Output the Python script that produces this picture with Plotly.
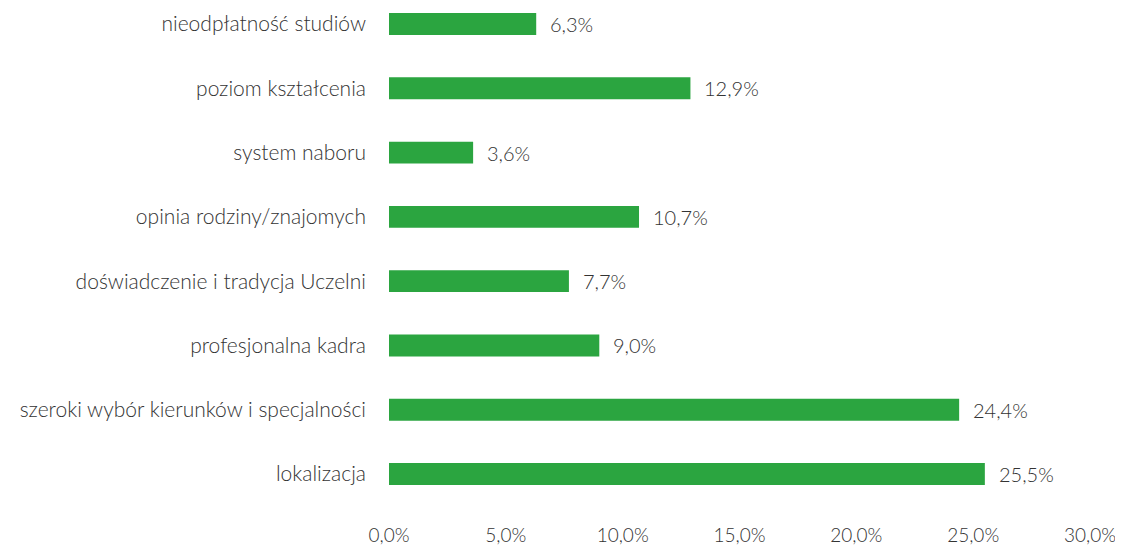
import plotly.graph_objects as go

categories = [
    "lokalizacja",
    "szeroki wybór kierunków i specjalności",
    "profesjonalna kadra",
    "doświadczenie i tradycja Uczelni",
    "opinia rodziny/znajomych",
    "system naboru",
    "poziom kształcenia",
    "nieodpłatność studiów",
]
values = [25.5, 24.4, 9.0, 7.7, 10.7, 3.6, 12.9, 6.3]
tick_values = [0, 5, 10, 15, 20, 25, 30]
tick_text = [f"{t:.1f}".replace(".", ",") + "%" for t in tick_values]

font_family = "Lato"
text_color = "#333333"
bar_color = "#2ba540"

fig = go.Figure()
fig.add_trace(go.Bar(
    y=categories,
    x=values,
    orientation="h",
    marker=dict(color=bar_color, line=dict(width=0)),
    width=0.34,
    hoverinfo="skip",
))

for c, v in zip(categories, values):
    fig.add_annotation(
        x=v, y=c, text=f"{v:.1f}".replace(".", ",") + "%",
        showarrow=False, xanchor="left", yanchor="middle", xshift=12,
        font=dict(family=font_family, size=20, color=text_color, weight=300),
    )

fig.update_layout(
    width=1115, height=539,
    margin=dict(l=381, r=33, t=0, b=25, autoexpand=False),
    paper_bgcolor="white", plot_bgcolor="white",
    showlegend=False,
    font=dict(family=font_family, size=20, color=text_color, weight=300),
)
fig.update_xaxes(
    range=[0, 30], tickvals=tick_values, ticktext=tick_text,
    showgrid=False, zeroline=False, showline=False, ticks="",
    automargin=False, ticklabeloverflow="allow",
    tickfont=dict(family=font_family, size=19, color=text_color, weight=300),
)
fig.update_yaxes(
    categoryorder="array", categoryarray=categories,
    range=[-0.746, 7.249],
    showgrid=False, zeroline=False, showline=False, ticks="",
    automargin=False,
    ticklabelstandoff=22,
    tickfont=dict(family=font_family, size=21, color=text_color, weight=300),
)

fig.write_html("out.html")
